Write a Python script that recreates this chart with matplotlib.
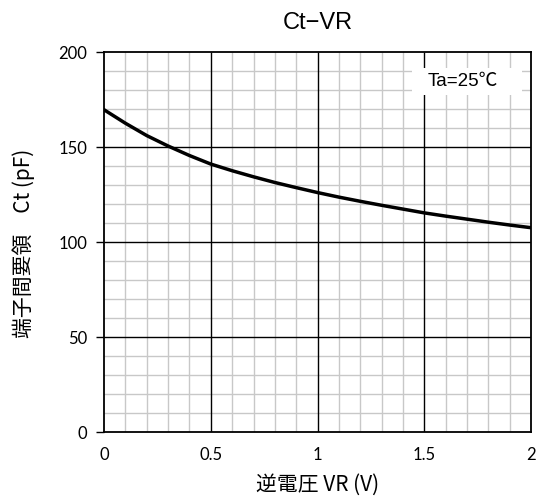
import matplotlib
matplotlib.use('Agg')
import matplotlib.pyplot as plt
from matplotlib.patches import Rectangle
from matplotlib.ticker import MultipleLocator

plt.rcParams['font.family'] = ['Lato', 'Noto Sans CJK JP', 'DejaVu Sans']

vr = [0.0, 0.1, 0.2, 0.3, 0.4, 0.5, 0.6, 0.7, 0.8, 0.9, 1.0,
      1.1, 1.2, 1.3, 1.4, 1.5, 1.6, 1.7, 1.8, 1.9, 2.0]
ct = [169.6, 162.5, 156.0, 150.5, 145.5, 141.0, 137.5, 134.3, 131.3, 128.6, 126.0,
      123.6, 121.4, 119.3, 117.3, 115.3, 113.6, 112.0, 110.4, 108.9, 107.5]
x_ticks = [0, 0.5, 1, 1.5, 2]
x_labels = ['0', '0.5', '1', '1.5', '2']
y_ticks = [0, 50, 100, 150, 200]

fig = plt.figure(figsize=(5.38, 5.02), dpi=100)
ax = fig.add_axes([0.1933, 0.1375, 0.794, 0.757])

ax.set_xlim(0, 2)
ax.set_ylim(0, 200)
ax.set_xticks(x_ticks)
ax.set_xticklabels(x_labels)
ax.set_yticks(y_ticks)
ax.xaxis.set_minor_locator(MultipleLocator(0.1))
ax.yaxis.set_minor_locator(MultipleLocator(10))

# minor grid gray, major grid black drawn on top
ax.grid(which='minor', color='#c8c8c8', linewidth=1.0, zorder=0)
ax.set_axisbelow(True)
ax.vlines(x_ticks[1:-1], 0, 200, color='black', linewidth=1.0, zorder=1)
ax.hlines(y_ticks[1:-1], 0, 2, color='black', linewidth=1.0, zorder=1)

ax.plot(vr, ct, color='black', linewidth=2.5, zorder=5)

ax.tick_params(which='minor', length=0)
ax.tick_params(which='major', axis='x', length=0, pad=10)
ax.tick_params(which='major', axis='y', length=6, width=1.0, pad=6)
ax.tick_params(labelsize=12)
for s in ax.spines.values():
    s.set_linewidth(1.3)
    s.set_zorder(6)

# white label box
ax.add_patch(Rectangle((1.443, 177.6), 0.515, 14.0, facecolor='white',
                       edgecolor='none', zorder=3))
ax.text(1.68, 184.8, 'Ta=25℃', ha='center', va='center', fontsize=13.5,
        family=['Liberation Sans', 'Noto Sans CJK JP'], zorder=4)

ax.set_title('Ct−VR', fontsize=17, pad=17,
             family=['Liberation Sans', 'DejaVu Sans'])
ax.set_xlabel('逆電圧 VR (V)', fontsize=15, labelpad=8,
              family=['Noto Sans CJK JP', 'DejaVu Sans'])
ax.set_ylabel('端子間要領　Ct (pF)', fontsize=15, labelpad=17,
              family=['Noto Sans CJK JP', 'DejaVu Sans'])

fig.savefig('out.png', dpi=100)
